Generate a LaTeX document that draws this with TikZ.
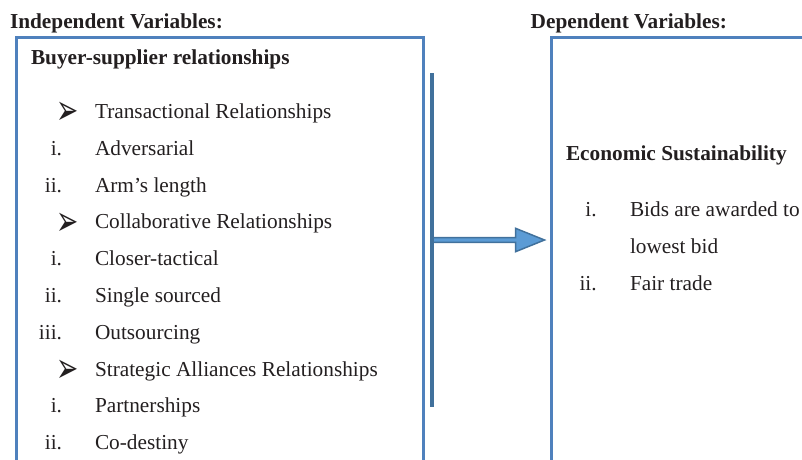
\documentclass[tikz,border=0pt]{standalone}
\usepackage{fontspec}
\setmainfont{Liberation Serif}
\newfontfamily\dingfont{DejaVu Sans}
\usetikzlibrary{positioning,shapes.arrows}
\definecolor{boxblue}{RGB}{79,129,189}
\definecolor{barblue}{RGB}{65,113,156}
\definecolor{arrowfill}{RGB}{91,155,213}
\definecolor{inkgray}{RGB}{35,31,32}
\newcommand\arrowbullet{\scalebox{0.95}[1.5]{➢}}

\begin{document}
\begin{tikzpicture}[
	x = 1pt, y = -1pt, % one unit per pixel, y going down
	node distance = 36.8pt, % distance between list lines
	font = \fontsize{21.3}{25}\selectfont,
	every node/.style = {text = inkgray, inner sep = 0pt, outer sep = 0pt},
	varbox/.style = {draw = boxblue, line width = 3pt, anchor = north west},
	heading/.style = {anchor = base west, font = \fontsize{21.3}{25}\selectfont\bfseries},
	listline/.style = {text height = 15pt, text depth = 5pt},
	nextline/.style = {below = of #1.west, anchor = west}, % next line, same left edge
	numeral/.style = {text height = 15pt, text depth = 5pt},
	bulletmark/.style = {font = \dingfont\fontsize{28}{28}\selectfont},
	barline/.style = {draw = barblue, line width = 4pt},
	flowarrow/.style = {single arrow, draw = barblue, fill = arrowfill, line width = 1.5pt,
		inner xsep = 0pt, inner ysep = 1.55pt, single arrow head extend = 9.4pt,
		single arrow tip angle = 44, minimum height = 111.5pt, anchor = tail}
	]
	\useasboundingbox (0,0) rectangle (802,459);
	\clip (0,0) rectangle (802,459);
	
	% headings and the two frames
	\node[heading] (indeplabel) at (10,28.5) {Independent Variables:};
	\node[heading] (deplabel) at (530.7,28.5) {Dependent Variables:};
	\node[varbox, minimum width = 406.5pt, minimum height = 480pt] (indepbox) at (16.5,37.5) {};
	\node[varbox, minimum width = 300pt, minimum height = 480pt] (depbox) at (551.5,37.5) {};
	
	% left list
	\node[heading] (buyer) at (31,64) {Buyer-supplier relationships};
	\node[listline, anchor = base west] (trans) at (95,118.5) {Transactional Relationships};
	\node[listline, nextline = trans] (advers) {Adversarial};
	\node[listline, nextline = advers] (armlen) {Arm’s length};
	\node[listline, nextline = armlen] (collab) {Collaborative Relationships};
	\node[listline, nextline = collab] (closer) {Closer-tactical};
	\node[listline, nextline = closer] (single) {Single sourced};
	\node[listline, nextline = single] (outsrc) {Outsourcing};
	\node[listline, nextline = outsrc] (strat) {Strategic Alliances Relationships};
	\node[listline, nextline = strat] (partner) {Partnerships};
	\node[listline, nextline = partner] (codest) {Co-destiny};
	
	\foreach \line in {trans,collab,strat}
		\node[bulletmark, left = 16pt of \line] (b\line) {\arrowbullet};
	\foreach \line/\num in {advers/i., armlen/ii., closer/i., single/ii., outsrc/iii., partner/i., codest/ii.}
		\node[numeral, left = 33pt of \line] (n\line) {\num};
	
	% right list
	\node[heading] (econ) at (566,160) {Economic Sustainability};
	\node[listline, anchor = base west] (bids) at (630,216.7) {Bids are awarded to};
	\node[listline, nextline = bids, node distance = 35.3pt] (lowest) {lowest bid};
	\node[listline, nextline = lowest, node distance = 35.3pt] (fair) {Fair trade};
	\node[numeral, left = 33.3pt of bids] (nbids) {i.};
	\node[numeral, left = 33.3pt of fair] (nfair) {ii.};
	
	% bar and arrow
	\coordinate (bartop) at (432,73);
	\coordinate (barbot) at (432,407);
	\path (bartop) -- coordinate (barmid) (barbot);
	\node[flowarrow, xshift = 1pt] (flow) at (barmid) {};
	\draw[barline] (bartop) -- (barbot);
\end{tikzpicture}
\end{document}
